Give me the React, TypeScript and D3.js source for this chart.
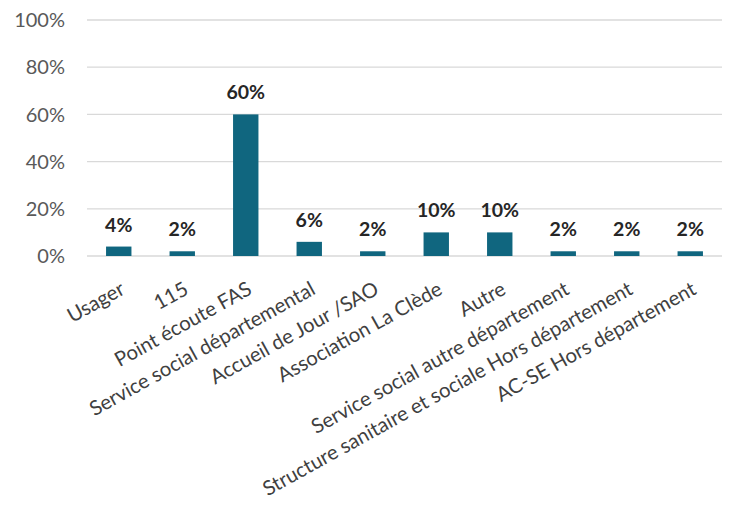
import React from "react";
import * as d3 from "d3";

const categories = [
  "Usager",
  "115",
  "Point écoute FAS",
  "Service social départemental",
  "Accueil de Jour /SAO",
  "Association La Clède",
  "Autre",
  "Service social autre département",
  "Structure sanitaire et sociale Hors département",
  "AC-SE Hors département",
];
const values = [0.04, 0.02, 0.6, 0.06, 0.02, 0.1, 0.1, 0.02, 0.02, 0.02];
const valueLabels = ["4%", "2%", "60%", "6%", "2%", "10%", "10%", "2%", "2%", "2%"];
const yTicks = [0, 0.2, 0.4, 0.6, 0.8, 1.0];

const W = 729;
const H = 506;
const left = 87;
const right = 722;
const top = 20;
const bottom = 256;
const FONT = "Lato, 'Open Sans', sans-serif";

export default function App() {
  const x = d3
    .scaleBand<string>()
    .domain(categories)
    .range([left, right])
    .paddingInner(0.6)
    .paddingOuter(0.3);
  const y = d3.scaleLinear().domain([0, 1]).range([bottom, top]);
  const fmt = d3.format(".0%");

  return (
    <svg
      width={W}
      height={H}
      style={{ position: "absolute", left: 0, top: 0, background: "#fff" }}
    >
      {yTicks.map((t) => (
        <g key={t}>
          <line
            x1={left}
            x2={right}
            y1={y(t)}
            y2={y(t)}
            stroke="#d9d9d9"
            strokeWidth={1.3}
          />
          <text
            x={65}
            y={y(t)}
            dy="0.36em"
            textAnchor="end"
            fontFamily={FONT}
            fontSize={20}
            fill="#595959"
          >
            {fmt(t)}
          </text>
        </g>
      ))}
      {categories.map((c, i) => {
        const cx = (x(c) as number) + x.bandwidth() / 2;
        return (
          <g key={c}>
            <rect
              x={x(c)}
              y={y(values[i])}
              width={x.bandwidth()}
              height={bottom - y(values[i])}
              fill="#10667f"
            />
            <text
              x={cx}
              y={y(values[i]) - 15}
              textAnchor="middle"
              fontFamily={FONT}
              fontSize={19.5}
              fontWeight="bold"
              fill="#262626"
            >
              {valueLabels[i]}
            </text>
            <text
              transform={`translate(${cx + 4},${287}) rotate(-29)`}
              textAnchor="end"
              dy="0.35em"
              fontFamily={FONT}
              fontSize={20.3}
              fill="#404040"
            >
              {c}
            </text>
          </g>
        );
      })}
    </svg>
  );
}
